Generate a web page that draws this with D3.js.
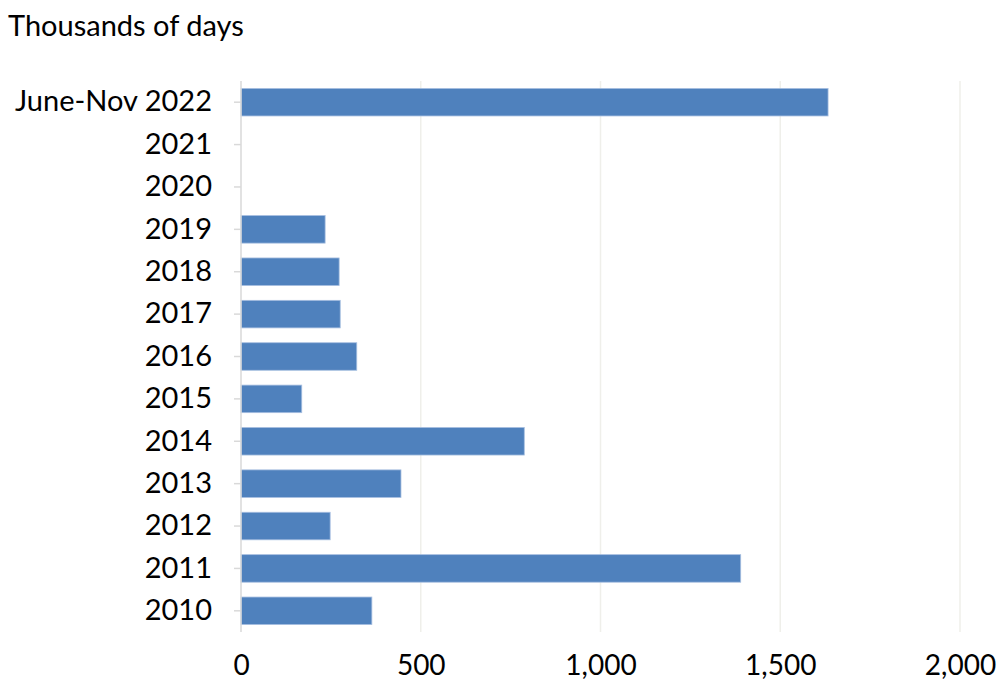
<!DOCTYPE html>
<html>
<head>
<meta charset="utf-8">
<script src="https://cdn.jsdelivr.net/npm/d3@7"></script>
<style>
  html, body { margin: 0; padding: 0; background: #fff; }
  svg { display: block; font-family: Lato, "Open Sans", sans-serif; }
</style>
</head>
<body>
<svg id="chart" width="997" height="687"></svg>
<script>
const categories = ["June-Nov 2022", "2021", "2020", "2019", "2018", "2017", "2016", "2015", "2014", "2013", "2012", "2011", "2010"];
const values = [1633, null, null, 234, 273, 276, 322, 169, 788, 445, 248, 1390, 364];
const xTicks = [0, 500, 1000, 1500, 2000];
const yTitle = "Thousands of days";

const svg = d3.select("#chart");
const mLeft = 241, mRight = 960, mTop = 81, mBottom = 632;

const x = d3.scaleLinear().domain([0, 2000]).range([mLeft, mRight]);
const y = d3.scaleBand().domain(categories).range([mTop, mBottom]).paddingInner(0.35).paddingOuter(0.175);

// gridlines
svg.append("g").selectAll("line").data(xTicks.filter(d => d > 0)).join("line")
  .attr("x1", d => x(d)).attr("x2", d => x(d))
  .attr("y1", mTop).attr("y2", mBottom)
  .attr("stroke", "#efefea").attr("stroke-width", 1.5);

// bars
svg.append("g").selectAll("rect").data(categories.map((c, i) => ({c, v: values[i]})).filter(d => d.v != null)).join("rect")
  .attr("x", x(0))
  .attr("y", d => y(d.c))
  .attr("width", d => x(d.v) - x(0))
  .attr("height", y.bandwidth())
  .attr("fill", "#4f81bd")
  .attr("stroke", "#a7bfe0").attr("stroke-width", 0.8);

// y axis
const yAxis = d3.axisLeft(y).tickSize(7).tickPadding(22).tickSizeOuter(0);
const gy = svg.append("g").attr("transform", `translate(${mLeft},0)`).call(yAxis);
gy.select(".domain").attr("stroke", "#d9d9d9").attr("stroke-width", 1.5)
  .attr("d", `M0,${mTop}V${mBottom}`);
gy.selectAll(".tick line").attr("stroke", "#d9d9d9").attr("stroke-width", 1.5);
gy.selectAll(".tick text").attr("fill", "#000").style("font-size", "29px")
  .style("font-family", "Lato, 'Open Sans', sans-serif");

// x axis
const xAxis = d3.axisBottom(x).tickValues(xTicks).tickFormat(d3.format(",")).tickSize(0).tickPadding(23);
const gx = svg.append("g").attr("transform", `translate(0,${mBottom})`).call(xAxis);
gx.select(".domain").remove();
gx.selectAll(".tick text").attr("fill", "#000").style("font-size", "28px")
  .style("font-family", "Lato, 'Open Sans', sans-serif");

// title
svg.append("text").attr("x", 8).attr("y", 36).text(yTitle)
  .style("font-size", "29px").attr("fill", "#000");
</script>
</body>
</html>
